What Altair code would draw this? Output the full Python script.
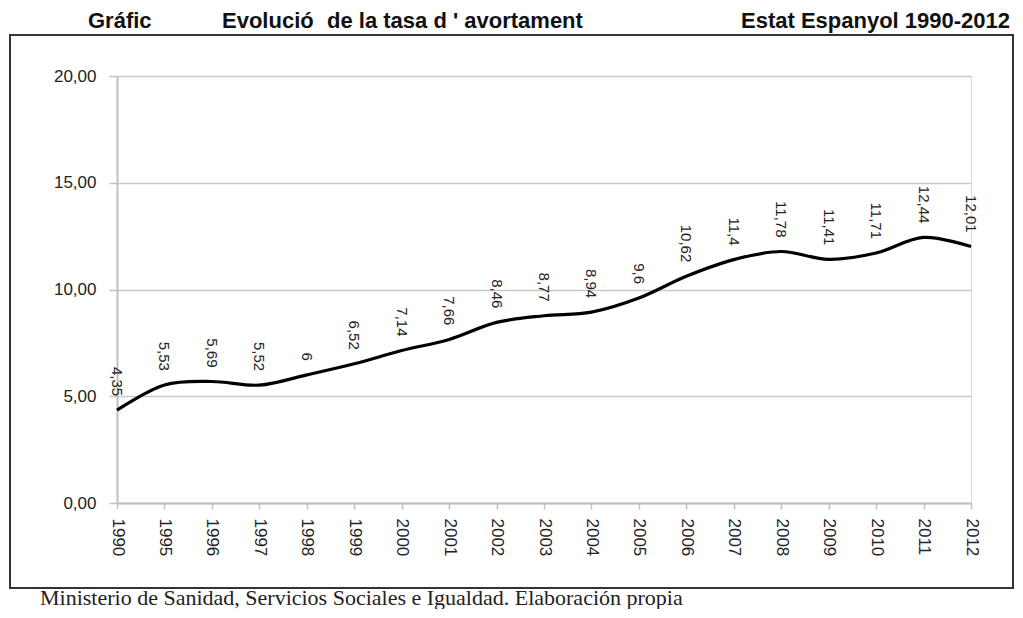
import altair as alt
import pandas as pd

years = ["1990", "1995", "1996", "1997", "1998", "1999", "2000", "2001", "2002", "2003",
         "2004", "2005", "2006", "2007", "2008", "2009", "2010", "2011", "2012"]
rates = [4.35, 5.53, 5.69, 5.52, 6, 6.52, 7.14, 7.66, 8.46, 8.77,
         8.94, 9.6, 10.62, 11.4, 11.78, 11.41, 11.71, 12.44, 12.01]
y_ticks = [0, 5, 10, 15, 20]

title_parts = ["Gráfic", "Evolució", "de la tasa d ' avortament", "Estat Espanyol 1990-2012"]
title_x = [-29, 105, 210, 624]
footer_text = "Ministerio de Sanidad, Servicios Sociales e Igualdad. Elaboración propia"

W, H = 854, 427

df = pd.DataFrame({"year": years, "rate": rates})

x_enc = alt.X("year:O", sort=years,
              scale=alt.Scale(type="point", padding=0),
              axis=alt.Axis(title=None, labelAngle=90, labelAlign="left", labelBaseline="middle",
                            labelFont="Liberation Sans", labelFontSize=17, labelColor="#222",
                            labelPadding=9, tickSize=6, tickColor="#c0c0c0", tickWidth=1.5,
                            domainColor="#c0c0c0", domainWidth=2, grid=False))
y_enc = alt.Y("rate:Q", scale=alt.Scale(domain=[0, 20], nice=False, zero=True),
              axis=alt.Axis(title=None, values=y_ticks,
                            labelExpr="replace(format(datum.value, '.2f'), '.', ',')",
                            labelFont="Liberation Sans", labelFontSize=17, labelColor="#222",
                            labelPadding=13, tickSize=8, tickColor="#c0c0c0", tickWidth=1.5,
                            domainColor="#c0c0c0", domainWidth=2,
                            grid=True, gridColor="#c8c8c8", gridWidth=1.5))

base = alt.Chart(df)

line = base.mark_line(color="black", strokeWidth=3.2, interpolate="catmull-rom").encode(
    x=x_enc, y=y_enc)

labels = base.transform_calculate(
    lab="replace(toString(datum.rate), '.', ',')"
).mark_text(angle=90, align="right", baseline="middle", dx=-14,
            font="Liberation Sans", fontSize=15, color="#222").encode(
    x=alt.X("year:O", sort=years), y="rate:Q", text="lab:N")

frame = alt.Chart(pd.DataFrame({"k": [0]})).mark_rect(
    fill=None, stroke="#333", strokeWidth=2).encode(
    x=alt.value(-107), x2=alt.value(896), y=alt.value(-41), y2=alt.value(512))

title = alt.Chart(pd.DataFrame({"t": title_parts, "px": title_x})).mark_text(
    align="left", baseline="alphabetic", font="Liberation Sans",
    fontWeight="bold", fontSize=22, color="#111").encode(
    x=alt.X("px:Q", scale=None), y=alt.value(-48), text="t:N")

footer = alt.Chart(pd.DataFrame({"t": [footer_text]})).mark_text(
    align="left", baseline="alphabetic", font="Liberation Serif",
    fontSize=22, color="#222").encode(
    x=alt.value(-77), y=alt.value(529), text="t:N")

chart = alt.layer(frame, line, labels, title, footer).properties(
    width=W, height=H,
    autosize=alt.AutoSizeParams(type="none"),
    padding={"left": 109, "top": 68, "right": 44, "bottom": 106},
).configure_view(stroke="#c8c8c8", strokeWidth=1.5).configure(background="white")

chart.save("out.html", embed_options={"renderer": "svg", "actions": False})
